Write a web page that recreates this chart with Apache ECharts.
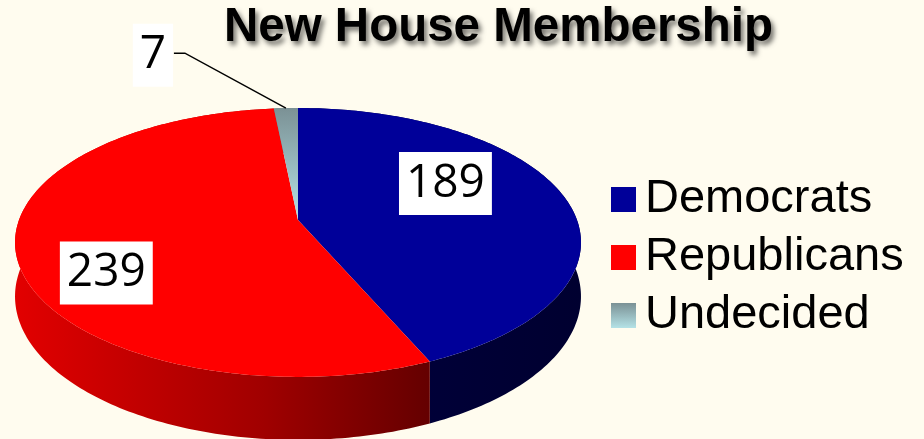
<!DOCTYPE html>
<html>
<head>
<meta charset="utf-8">
<title>New House Membership</title>
<script src="https://cdn.jsdelivr.net/npm/echarts@6/dist/echarts.min.js"></script>
<style>
html, body { margin: 0; padding: 0; background: #fffcef; }
#main { width: 924px; height: 439px; }
</style>
</head>
<body>
<div id="main"></div>
<script>
// data
var parties = ['Democrats', 'Republicans', 'Undecided'];
var seats = [189, 239, 7];

var total = 0;
for (var n = 0; n < seats.length; n++) total += seats[n];

// tilted pie, drawn with a little perspective
var pie = { cx: 298, cy: 220, r: 279, ry: 130.7, k: 0.167, depth: 52.5 };

function proj(u, v, dz) {
    var d = 1 - pie.k * v;
    return [pie.cx + pie.r * u / d, pie.cy + (pie.ry * v + (dz || 0)) / d];
}
function at(deg, f, dz) {
    var t = deg * Math.PI / 180;
    return proj(f * Math.sin(t), -f * Math.cos(t), dz);
}
function startOf(i) {
    var s = 0;
    for (var j = 0; j < i; j++) s += seats[j];
    return s / total * 360;
}

var looks = [
    {
        top: '#000099',
        side: new echarts.graphic.LinearGradient(0, 0, 1, 0, [
            { offset: 0, color: '#00003e' }, { offset: 1, color: '#000030' }]),
        labelR: 0.55, labelOffset: [0, -22]
    },
    {
        top: '#ff0000',
        side: new echarts.graphic.LinearGradient(0, 0, 1, 0, [
            { offset: 0, color: '#e20000' }, { offset: 0.6, color: '#a00000' }, { offset: 1, color: '#640000' }]),
        labelR: 0.7, labelOffset: [3, 29]
    },
    {
        top: new echarts.graphic.LinearGradient(0, 0, 0, 1, [
            { offset: 0, color: '#7b9195' }, { offset: 1, color: '#b4e2e6' }]),
        side: '#5d7276',
        labelR: 1, labelOffset: [-133, -53], leader: true
    }
];

function makeRender(i) {
    return function (params, api) {
        var a0 = startOf(i);
        var a1 = a0 + api.value(0) / total * 360;
        var look = looks[i];
        var topPts = [proj(0, 0, 0)];
        var rim = [], low = [];
        var steps = Math.max(2, Math.ceil(a1 - a0));
        for (var s = 0; s <= steps; s++) {
            var a = a0 + (a1 - a0) * s / steps;
            rim.push(at(a, 1, 0));
            low.push(at(a, 1, pie.depth));
        }
        topPts = topPts.concat(rim);
        var sidePts = rim.concat(low.slice().reverse());

        var mid = (a0 + a1) / 2;
        var anchor = at(mid, look.labelR, 0);
        var lx = anchor[0] + look.labelOffset[0];
        var ly = anchor[1] + look.labelOffset[1];

        var children = [
            { type: 'polygon', z2: 1, shape: { points: sidePts }, style: { fill: look.side } },
            { type: 'polygon', z2: 2, shape: { points: topPts }, style: { fill: look.top } },
            {
                type: 'text', z2: 5,
                style: {
                    text: String(api.value(0)), x: lx, y: ly,
                    align: 'center', verticalAlign: 'middle',
                    fill: '#000', fontSize: 46, fontFamily: 'Open Sans',
                    lineHeight: 47, backgroundColor: '#fff', padding: [8, 7]
                }
            }
        ];
        if (look.leader) {
            children.push({
                type: 'polyline', z2: 4,
                shape: { points: [anchor, [lx + 32, ly - 2], [lx + 21, ly - 2]] },
                style: { stroke: '#000', lineWidth: 1.5, fill: null }
            });
        }
        return { type: 'group', children: children };
    };
}

var series = [];
for (var i = 0; i < parties.length; i++) {
    series.push({
        name: parties[i],
        type: 'custom',
        coordinateSystem: 'none',
        silent: true,
        itemStyle: { color: looks[i].top },
        data: [seats[i]],
        renderItem: makeRender(i)
    });
}

var chart = echarts.init(document.getElementById('main'));
chart.setOption({
    backgroundColor: '#fffcef',
    animation: false,
    title: {
        text: 'New House Membership',
        left: 224,
        top: 4,
        padding: 0,
        textStyle: {
            fontSize: 47.5,
            fontWeight: 'bold',
            fontFamily: 'Liberation Sans',
            color: '#000',
            textShadowColor: 'rgba(0,0,0,0.55)',
            textShadowBlur: 5,
            textShadowOffsetX: 3,
            textShadowOffsetY: 4
        }
    },
    legend: {
        orient: 'vertical',
        left: 611,
        top: 176,
        padding: 0,
        itemWidth: 25,
        itemHeight: 25,
        itemGap: 11,
        icon: 'rect',
        selectedMode: false,
        data: parties,
        textStyle: {
            fontSize: 47,
            lineHeight: 47,
            fontFamily: 'Liberation Sans',
            color: '#000',
            padding: [0, 0, 0, 4]
        }
    },
    series: series
});
</script>
</body>
</html>
